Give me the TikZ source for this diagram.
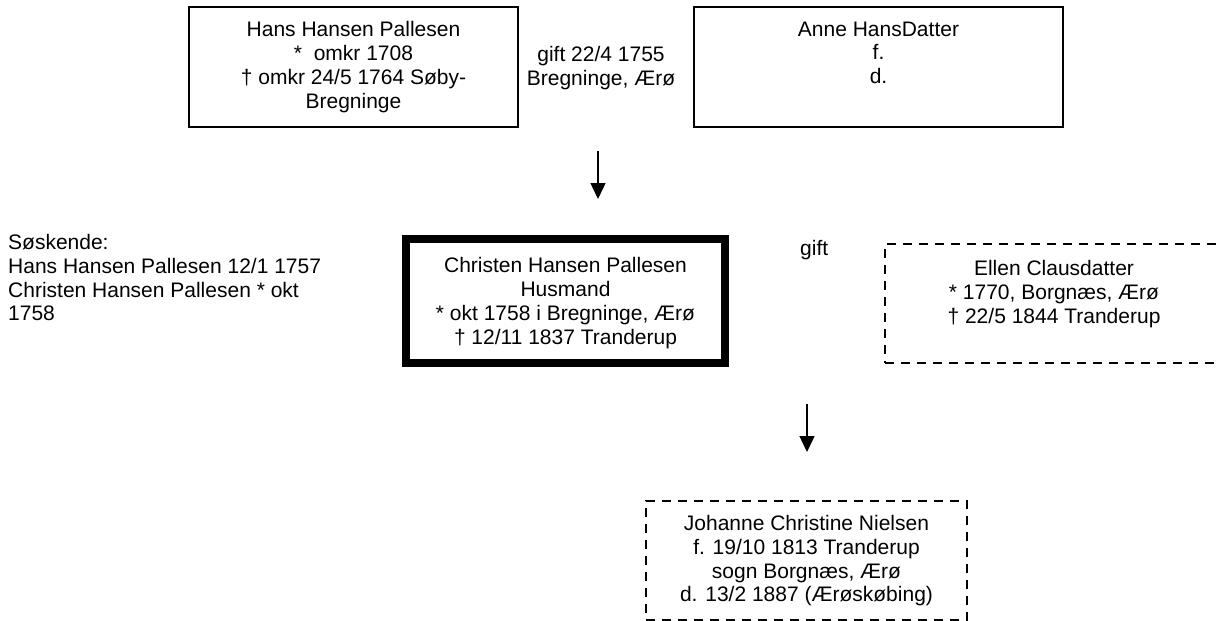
\documentclass[tikz,border=0pt]{standalone}
\usepackage{fontspec}
\setmainfont{Liberation Sans}
\usetikzlibrary{arrows.meta}
\begin{document}
\begin{tikzpicture}[x=1pt,y=-1pt,
  txt/.style={font=\fontsize{21}{23.8}\selectfont, align=center, inner sep=0pt, anchor=north},
  solidbox/.style={draw, line width=1.4pt, inner sep=0pt},
  dashbox/.style={draw, line width=1.4pt, dash pattern=on 9pt off 7pt, inner sep=0pt},
  thickbox/.style={draw, line width=8pt, inner sep=0pt},
  arr/.style={line width=1.4pt, -{Triangle[width=15pt,length=16pt]}}]
\useasboundingbox (0,0) rectangle (1218,621);
% boxes
\node[solidbox, minimum width=329pt, minimum height=120pt] (hans) at (353.5,67) {};
\node[solidbox, minimum width=369pt, minimum height=120pt] (anne) at (878.5,67) {};
\node[thickbox, minimum width=319pt, minimum height=124pt] (christen) at (565.5,301) {};
\node[dashbox, minimum width=338pt, minimum height=119pt] (ellen) at (1054,303.5) {};
\node[dashbox, minimum width=321pt, minimum height=119pt] (johanne) at (806.5,560.5) {};
% texts
\node[txt] (hanstxt) at (353.5,21.5) {Hans Hansen Pallesen\\*\ \ omkr 1708\\† omkr 24/5 1764 Søby-\\Bregninge};
\node[txt] (gift1) at (601,46) {gift 22/4 1755\\Bregninge, Ærø};
\node[txt] (annetxt) at (878.5,21.5) {Anne HansDatter\\f.\\d.};
\node[txt, align=left, anchor=north west] (soskende) at (8,234) {Søskende:\\Hans Hansen Pallesen 12/1 1757\\Christen Hansen Pallesen * okt\\1758};
\node[txt] (christentxt) at (565.5,257.5) {Christen Hansen Pallesen\\Husmand\\* okt 1758 i Bregninge, Ærø\\† 12/11 1837 Tranderup};
\node[txt, anchor=north west] (gift2) at (800,240) {gift};
\node[txt] (ellentxt) at (1054,260) {Ellen Clausdatter\\* 1770, Borgnæs, Ærø\\† 22/5 1844 Tranderup};
\node[txt] (johannetxt) at (806.5,515) {Johanne Christine Nielsen\\f. 19/10 1813 Tranderup\\sogn Borgnæs, Ærø\\d. 13/2 1887 (Ærøskøbing)};
% arrows
\coordinate (a1s) at (598,151);
\coordinate (a1e) at (598,199);
\coordinate (a2s) at (807,404);
\coordinate (a2e) at (807,452);
\draw[arr] (a1s) -- (a1e);
\draw[arr] (a2s) -- (a2e);
\end{tikzpicture}
\end{document}
